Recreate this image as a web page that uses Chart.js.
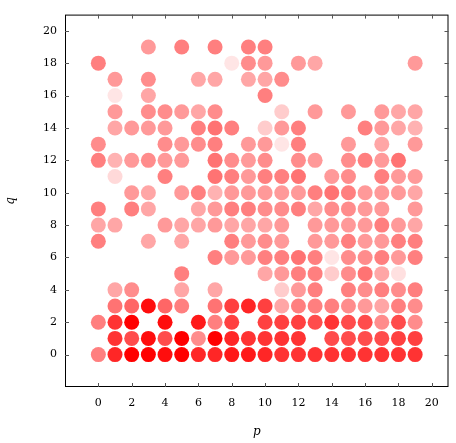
<!DOCTYPE html>
<html>
<head>
<meta charset="utf-8">
<script src="https://cdn.jsdelivr.net/npm/chart.js@4"></script>
<style>
  html, body { margin: 0; padding: 0; background: #fff; }
  #wrap { width: 456px; height: 443px; }
</style>
</head>
<body>
<div id="wrap"><canvas id="c"></canvas></div>
<script>
// each row: [p, opacity] for a given q
const row19 = [[3,.4],[5,.5],[7,.5],[9,.5],[10,.5]];
const row18 = [[0,.5],[8,.1],[9,.45],[10,.4],[12,.4],[13,.35],[19,.4]];
const row17 = [[1,.4],[3,.45],[6,.35],[7,.35],[9,.35],[10,.35],[11,.45]];
const row16 = [[1,.1],[3,.35],[10,.5]];
const row15 = [[1,.4],[3,.45],[4,.45],[5,.4],[6,.35],[7,.45],[11,.2],[13,.4],[15,.4],[17,.4],[18,.35],[19,.35]];
const row14 = [[1,.35],[2,.4],[3,.4],[4,.4],[6,.5],[7,.55],[8,.5],[10,.2],[11,.4],[12,.5],[16,.5],[17,.4],[18,.35],[19,.3]];
const row13 = [[0,.45],[4,.45],[5,.4],[6,.45],[7,.5],[9,.4],[10,.4],[11,.1],[12,.5],[15,.4],[17,.35],[19,.4]];
const row12 = [[0,.5],[1,.3],[2,.4],[3,.45],[4,.4],[5,.4],[7,.55],[8,.45],[9,.4],[10,.45],[12,.45],[13,.4],[15,.45],[16,.5],[17,.4],[18,.55]];
const row11 = [[1,.15],[4,.5],[7,.55],[8,.5],[9,.4],[10,.5],[11,.5],[12,.55],[14,.4],[15,.45],[17,.5],[18,.4],[19,.4]];
const row10 = [[2,.4],[3,.35],[5,.4],[6,.5],[7,.3],[8,.4],[9,.4],[10,.4],[11,.4],[12,.4],[13,.5],[14,.55],[15,.5],[16,.4],[17,.4],[18,.4],[19,.35]];
const row9 = [[0,.5],[2,.5],[3,.35],[6,.35],[7,.4],[8,.5],[9,.5],[10,.45],[11,.45],[12,.5],[13,.35],[14,.45],[15,.45],[16,.4],[17,.4],[19,.4]];
const row8 = [[0,.35],[1,.35],[4,.4],[5,.35],[6,.35],[7,.4],[8,.35],[9,.35],[10,.35],[11,.4],[13,.4],[14,.4],[15,.4],[16,.4],[17,.5],[18,.4],[19,.35]];
const row7 = [[0,.5],[3,.35],[5,.35],[8,.5],[9,.4],[10,.45],[11,.4],[13,.4],[14,.4],[15,.5],[16,.4],[17,.4],[18,.5],[19,.5]];
const row6 = [[7,.5],[8,.4],[9,.4],[10,.5],[11,.5],[12,.55],[13,.5],[14,.1],[15,.45],[16,.45],[17,.5],[18,.4],[19,.5]];
const row5 = [[5,.5],[10,.35],[11,.4],[12,.5],[13,.5],[14,.2],[15,.45],[16,.55],[17,.35],[18,.12]];
const row4 = [[1,.35],[2,.45],[5,.35],[7,.35],[11,.2],[12,.4],[13,.5],[15,.5],[16,.45],[17,.5],[18,.45],[19,.5]];
const row3 = [[1,.55],[2,.6],[3,.95],[4,.6],[5,.5],[7,.55],[8,.75],[9,.85],[10,.75],[11,.35],[12,.5],[13,.5],[14,.5],[15,.45],[16,.4],[17,.35],[18,.5],[19,.45]];
const row2 = [[0,.5],[1,.8],[2,1],[4,.95],[6,.9],[7,.5],[8,.75],[10,.75],[11,.75],[12,.75],[13,.7],[14,.8],[15,.7],[16,.7],[17,.45],[18,.7],[19,.45]];
const row1 = [[1,.8],[2,.7],[3,.95],[4,.7],[5,1],[6,.45],[7,1],[8,.85],[9,.8],[10,.8],[11,.8],[12,.8],[14,.7],[15,.7],[16,.7],[17,.7],[18,.75],[19,.75]];
const row0 = [[0,.5],[1,.85],[2,1],[3,1],[4,.95],[5,1],[6,.85],[7,.85],[8,.9],[9,.9],[10,.85],[11,.8],[12,.8],[13,.8],[14,.8],[15,.8],[16,.8],[17,.8],[18,.8],[19,.8]];

const rows = [row0,row1,row2,row3,row4,row5,row6,row7,row8,row9,row10,row11,row12,row13,row14,row15,row16,row17,row18,row19];
const tickValues = [0,2,4,6,8,10,12,14,16,18,20];

const points = [];
const colors = [];
rows.forEach((row, q) => row.forEach(([p, a]) => {
  points.push({ x: p, y: q });
  colors.push(`rgba(255,0,0,${a})`);
}));

const fontFam = "'DejaVu Serif', 'Liberation Serif', serif";

// pgfplots-like frame with inward ticks on all sides
const framePlugin = {
  id: 'frame',
  afterDraw(chart) {
    const { ctx, chartArea: a, scales: { x, y } } = chart;
    ctx.save();
    ctx.strokeStyle = '#000';
    ctx.lineWidth = 1;
    ctx.strokeRect(a.left + .5, a.top + .5, a.right - a.left - 1, a.bottom - a.top - 1);
    ctx.strokeStyle = '#555';
    ctx.beginPath();
    tickValues.forEach(v => {
      const px = Math.round(x.getPixelForValue(v)) + .5;
      ctx.moveTo(px, a.bottom); ctx.lineTo(px, a.bottom - 4);
      ctx.moveTo(px, a.top); ctx.lineTo(px, a.top + 4);
      const py = Math.round(y.getPixelForValue(v)) + .5;
      ctx.moveTo(a.left, py); ctx.lineTo(a.left + 4, py);
      ctx.moveTo(a.right, py); ctx.lineTo(a.right - 4, py);
    });
    ctx.stroke();
    ctx.restore();
  }
};

const fixTicks = scale => { scale.ticks = tickValues.map(v => ({ value: v })); };

new Chart(document.getElementById('c'), {
  type: 'scatter',
  data: {
    datasets: [{
      data: points,
      backgroundColor: colors,
      borderWidth: 0,
      pointRadius: 7.5,
      pointHoverRadius: 7.5
    }]
  },
  options: {
    responsive: true,
    maintainAspectRatio: false,
    animation: false,
    layout: { padding: { top: -12, right: -5 } },
    plugins: { legend: { display: false }, tooltip: { enabled: false } },
    scales: {
      x: {
        type: 'linear', min: -2, max: 21,
        afterBuildTicks: fixTicks,
        afterFit: s => { s.height = 56; },
        grid: { display: false, drawTicks: false },
        border: { display: false },
        ticks: { color: '#000', padding: 10, font: { family: fontFam, size: 11 } },
        title: { display: true, text: 'p', color: '#000', padding: { top: 2 }, font: { family: fontFam, size: 12, style: 'italic' } }
      },
      y: {
        type: 'linear', min: -2, max: 21,
        afterBuildTicks: fixTicks,
        afterFit: s => { s.width = 65; },
        grid: { display: false, drawTicks: false },
        border: { display: false },
        ticks: { color: '#000', padding: 8, font: { family: fontFam, size: 11 } },
        title: { display: true, text: 'q', color: '#000', padding: { bottom: 6 }, font: { family: fontFam, size: 12, style: 'italic' } }
      }
    }
  },
  plugins: [framePlugin]
});
</script>
</body>
</html>
